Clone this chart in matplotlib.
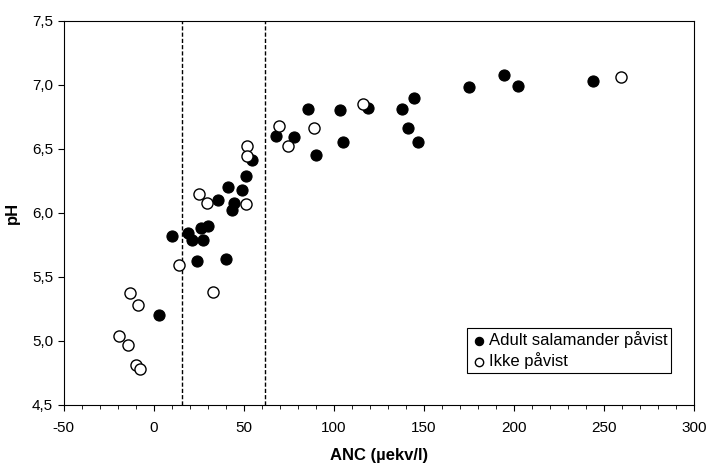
import matplotlib
matplotlib.use("Agg")
import matplotlib.pyplot as plt
from matplotlib.ticker import MultipleLocator, FuncFormatter

plt.rcParams['font.family'] = ['Liberation Sans', 'DejaVu Sans']
plt.rcParams['axes.unicode_minus'] = False

# ANC (ueq/l) and pH, salamander found
anc_found = [3.1, 10.3, 19.2, 21.4, 27.3, 26.4, 30.1, 24.3, 40.3, 36.0, 41.2,
             49.2, 44.7, 43.6, 51.2, 54.7, 68.2, 77.9, 90.1, 85.7, 105.1, 103.6,
             118.8, 137.9, 141.2, 144.7, 146.6, 174.9, 194.7, 202.1, 244.0]
ph_found = [5.20, 5.82, 5.84, 5.79, 5.79, 5.88, 5.90, 5.62, 5.64, 6.10, 6.20,
            6.18, 6.08, 6.02, 6.29, 6.41, 6.60, 6.59, 6.45, 6.81, 6.55, 6.80,
            6.82, 6.81, 6.66, 6.90, 6.55, 6.98, 7.08, 6.99, 7.03]

# not found
anc_none = [51.9, 51.9, 25.4, 29.9, 51.2, 14.0, -13.1, -8.8, 33.2, -19.2,
            -14.3, -9.9, -7.5, 69.7, 89.2, 74.7, 116.2, 259.2]
ph_none = [6.52, 6.445, 6.15, 6.08, 6.07, 5.59, 5.37, 5.28, 5.38, 5.04,
           4.97, 4.81, 4.78, 6.68, 6.66, 6.52, 6.85, 7.06]

limits = [16, 62]

fig = plt.figure(figsize=(7.06, 4.63), dpi=100)
ax = fig.add_axes([0.09, 0.126, 0.893, 0.829])

for v in limits:
    ax.axvline(v, color='black', lw=1.0, ls=(0, (3, 1.5)), zorder=1)

ax.scatter(anc_found, ph_found, s=64, c='black', edgecolors='black',
           linewidths=0.8, label='Adult salamander påvist', zorder=3)
ax.scatter(anc_none, ph_none, s=64, c='white', edgecolors='black',
           linewidths=1.0, label='Ikke påvist', zorder=3)

ax.set_xlim(-50, 300)
ax.set_ylim(4.5, 7.5)
ax.xaxis.set_major_locator(MultipleLocator(50))
ax.xaxis.set_minor_locator(MultipleLocator(10))
ax.yaxis.set_major_locator(MultipleLocator(0.5))
ax.yaxis.set_major_formatter(FuncFormatter(lambda v, p: f"{v:.1f}".replace('.', ',')))
ax.tick_params(axis='both', labelsize=11, length=4, width=0.8, direction='out')
ax.tick_params(axis='x', pad=8)
ax.tick_params(axis='x', which='minor', length=3, width=0.6)
for s in ax.spines.values():
    s.set_linewidth(0.8)

ax.set_xlabel('ANC (µekv/l)', fontsize=12, fontweight='bold', labelpad=9)
ax.set_ylabel('pH', fontsize=12, fontweight='bold', labelpad=9)

leg = ax.legend(loc='lower right', bbox_to_anchor=(0.963, 0.083), fontsize=12,
                frameon=True, fancybox=False, edgecolor='black', framealpha=1,
                handletextpad=0.1, handlelength=1.0, borderpad=0.2,
                borderaxespad=0, markerscale=0.75, labelspacing=0.25)
leg.get_frame().set_linewidth(0.8)

plt.savefig("out.png", dpi=100)
